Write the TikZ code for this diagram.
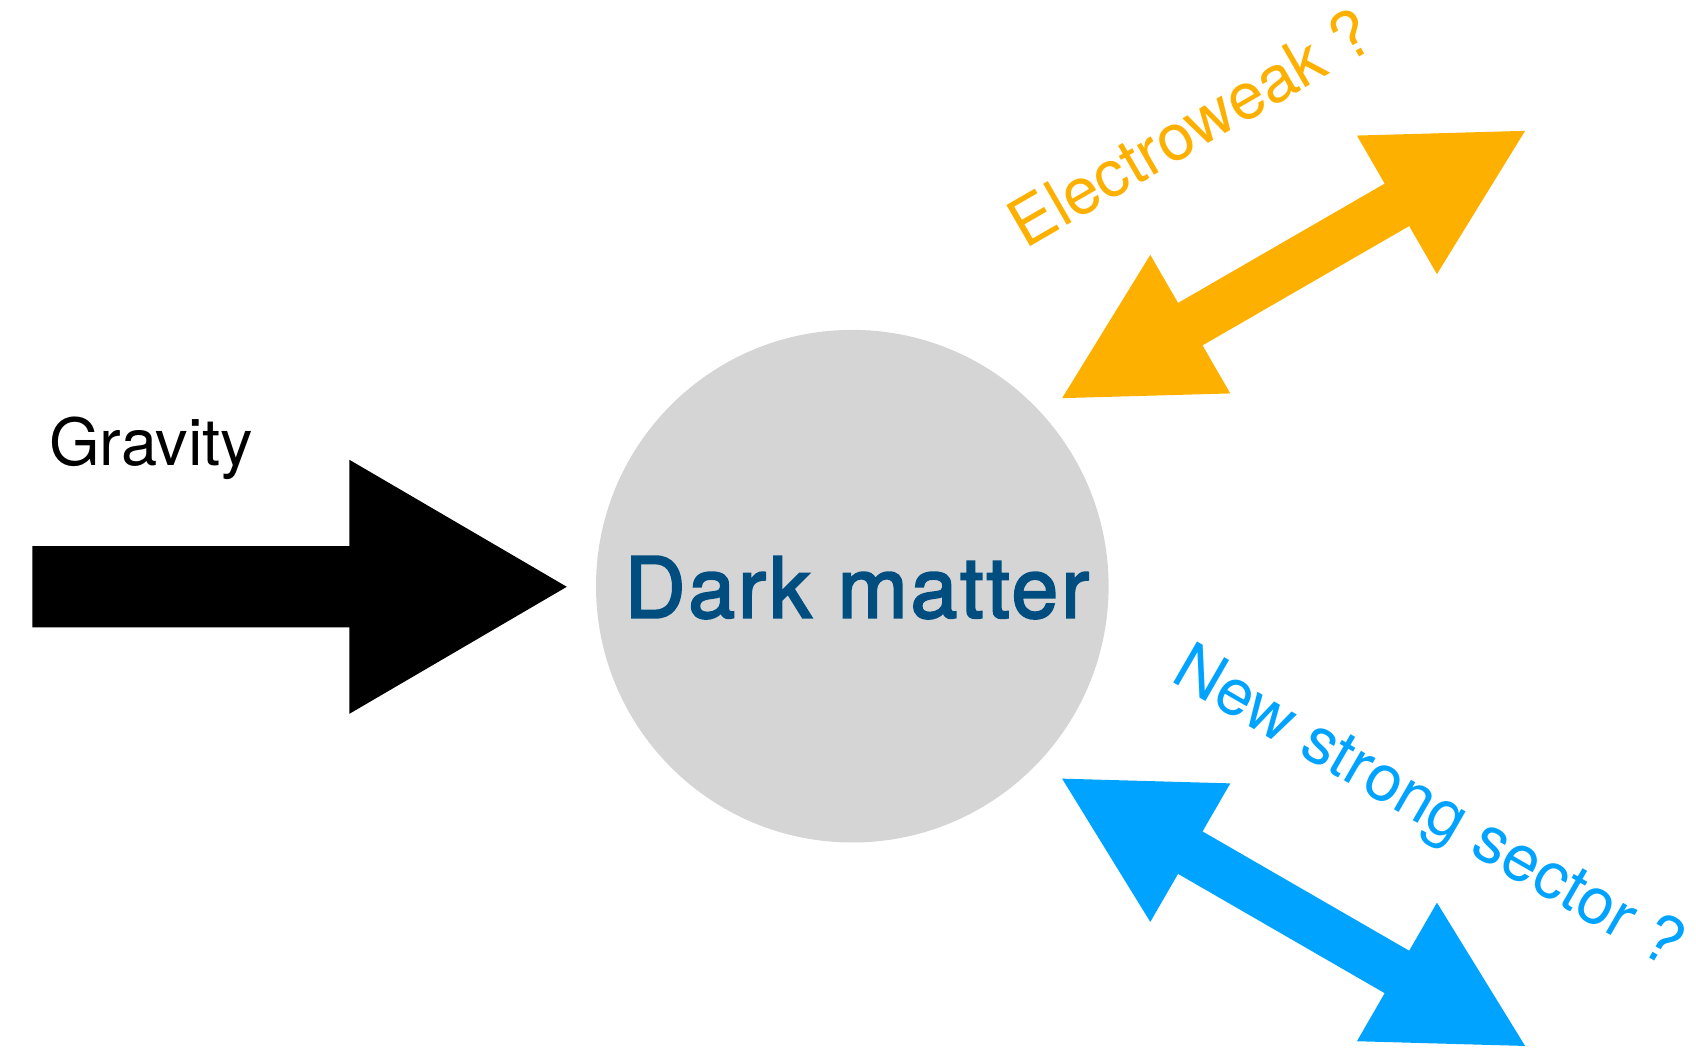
\documentclass[tikz,border=0pt]{standalone}
\usepackage{fontspec}
\setmainfont{TeX Gyre Heros}
\newfontfamily\dmfont[FakeBold=2.5, LetterSpace=3.5]{TeX Gyre Heros}
\definecolor{ewor}{HTML}{FDB000}
\definecolor{nsblue}{HTML}{00A3FF}
\definecolor{dmgray}{HTML}{D5D5D5}
\definecolor{dmtext}{HTML}{004E80}
\tikzset{
  label65/.style={inner sep=0pt, font=\fontsize{65}{78}\selectfont},
  dmlabel/.style={inner sep=0pt, text=dmtext, font=\dmfont\fontsize{84}{96}\selectfont},
}
\begin{document}
\begin{tikzpicture}[x=1pt,y=1pt]
\path[use as bounding box] (0,0) rectangle (1696,1047);
% dark matter circle
\node[circle, fill=dmgray, inner sep=0pt, minimum size=512.6pt] (dm) at (852.3,460.8) {};
\node[dmlabel, anchor=base] (dmtxt) at (857,429.4) {Dark matter};
% gravity arrow
\fill[black] (32.4,500.8) -- (349.4,500.8) -- (349.4,587.2) -- (566.8,460.2)
  -- (349.4,333.2) -- (349.4,419.6) -- (32.4,419.6) -- cycle;
\node[label65, anchor=base west] (grav) at (49,581) {Gravity};
% electroweak double arrow
\begin{scope}[shift={(1293.6,782.5)}, rotate=30]
\fill[ewor] (267.3,0) -- (119.3,80) -- (119.3,24.5) -- (-119.3,24.5) -- (-119.3,80)
  -- (-267.3,0) -- (-119.3,-80) -- (-119.3,-24.5) -- (119.3,-24.5) -- (119.3,-80) -- cycle;
\end{scope}
\node[label65, text=ewor, anchor=base west, rotate=30] (ew) at (1025.4,797.5) {Electroweak ?};
% new strong sector double arrow
\begin{scope}[shift={(1293.6,134.7)}, rotate=-30]
\fill[nsblue] (267.3,0) -- (119.3,80) -- (119.3,24.5) -- (-119.3,24.5) -- (-119.3,80)
  -- (-267.3,0) -- (-119.3,-80) -- (-119.3,-24.5) -- (119.3,-24.5) -- (119.3,-80) -- cycle;
\end{scope}
\node[label65, text=nsblue, anchor=base west, rotate=-30] (ns) at (1169.2,367) {New strong sector ?};
\end{tikzpicture}
\end{document}
